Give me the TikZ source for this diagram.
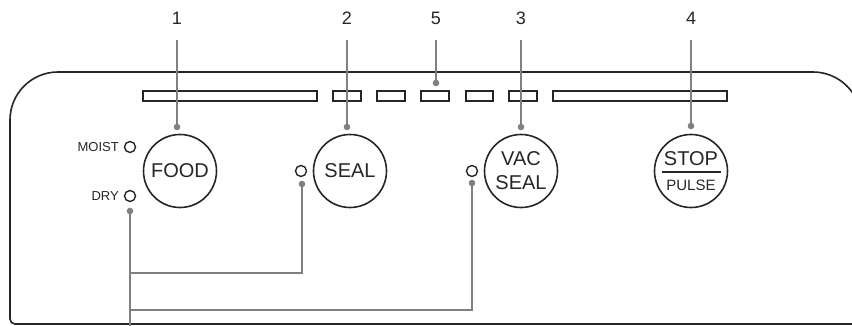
\documentclass[tikz,border=0pt]{standalone}
\usepackage{fontspec}
\setmainfont{Liberation Sans}
\begin{document}
\begin{tikzpicture}[x=1pt,y=-1pt,
  outline/.style={draw=black!85, line width=1.6pt},
  bar/.style={draw=black!85, line width=1.8pt, fill=white},
  button/.style={circle, draw=black!85, line width=1.6pt, minimum size=73pt, inner sep=0pt, font=\fontsize{20}{24}\selectfont, text=black!85, align=center},
  led/.style={circle, draw=black!85, line width=1.4pt, minimum size=11pt, inner sep=0pt},
  num/.style={font=\fontsize{18}{20}\selectfont, text=black!85, inner sep=0pt},
  ledlabel/.style={font=\fontsize{13}{15}\selectfont, text=black!85, inner sep=0pt, anchor=east},
  leader/.style={draw=black!50, line width=2.2pt},
  dot/.style={fill=black!50}
]
\useasboundingbox (0,0) rectangle (852,326);
\clip (0,0) rectangle (852,326);
% panel outline
\draw[outline] (880,324) -- (15,324) arc[start angle=270, end angle=180, radius=5pt]
  -- (10,120) arc[start angle=180, end angle=90, radius=48pt]
  -- (813,72) arc[start angle=90, end angle=0, radius=48pt] -- (861,340);
% indicator bars
\draw[bar] (143,91) rectangle (317,101);
\draw[bar] (333,91) rectangle (361,101);
\draw[bar] (377,91) rectangle (405,101);
\draw[bar] (421,91) rectangle (449,101);
\draw[bar] (466,91) rectangle (493,101);
\draw[bar] (509,91) rectangle (537,101);
\draw[bar] (553,91) rectangle (727,101);
% buttons
\node[button] (food) at (180,171) {FOOD};
\node[button] (seal) at (350,171) {SEAL};
\node[button] (vac) at (521,171) {VAC\\SEAL};
\node[button] (stop) at (691,171) {};
\node[font=\fontsize{20}{24}\selectfont, text=black!85, inner sep=0pt] (stoptxt) at (691,159) {STOP};
\node[font=\fontsize{15}{18}\selectfont, text=black!85, inner sep=0pt] (pulsetxt) at (691,185) {PULSE};
\draw[black!85, line width=1.3pt] (662,172) -- (721,172);
% LEDs
\node[led] (moistled) at (130,147) {};
\node[led] (dryled) at (130,196) {};
\node[led] (sealled) at (301,171) {};
\node[led] (vacled) at (472,171) {};
\node[ledlabel] (moist) at (119,147) {MOIST};
\node[ledlabel] (dry) at (119,196) {DRY};
% numbers
\node[num] (n1) at (177,18.5) {1};
\node[num] (n2) at (347,18.5) {2};
\node[num] (n5) at (436,18.5) {5};
\node[num] (n3) at (521,18.5) {3};
\node[num] (n4) at (691,18.5) {4};
% leader end points
\coordinate (d1) at (177,127);
\coordinate (d2) at (347,127);
\coordinate (d5) at (436,83);
\coordinate (d3) at (521,127);
\coordinate (d4) at (691,126);
\coordinate (ddry) at (130,211);
\coordinate (dseal) at (302,184);
\coordinate (dvac) at (472,183);
\coordinate (bottom) at (130,330);
% leaders from numbers
\foreach \n/\d in {n1/d1,n2/d2,n5/d5,n3/d3,n4/d4}{
  \draw[leader] (\n.south |- 0,40) -- (\d);
  \fill[dot] (\d) circle (3.3pt);
}
% LED leaders
\draw[leader] (ddry) -- (bottom);
\draw[leader] (dseal) -- (dseal |- 0,273) -- (ddry |- 0,273);
\draw[leader] (dvac) -- (dvac |- 0,310) -- (ddry |- 0,310);
\fill[dot] (ddry) circle (3.3pt);
\fill[dot] (dseal) circle (3.3pt);
\fill[dot] (dvac) circle (3.3pt);
\end{tikzpicture}
\end{document}
